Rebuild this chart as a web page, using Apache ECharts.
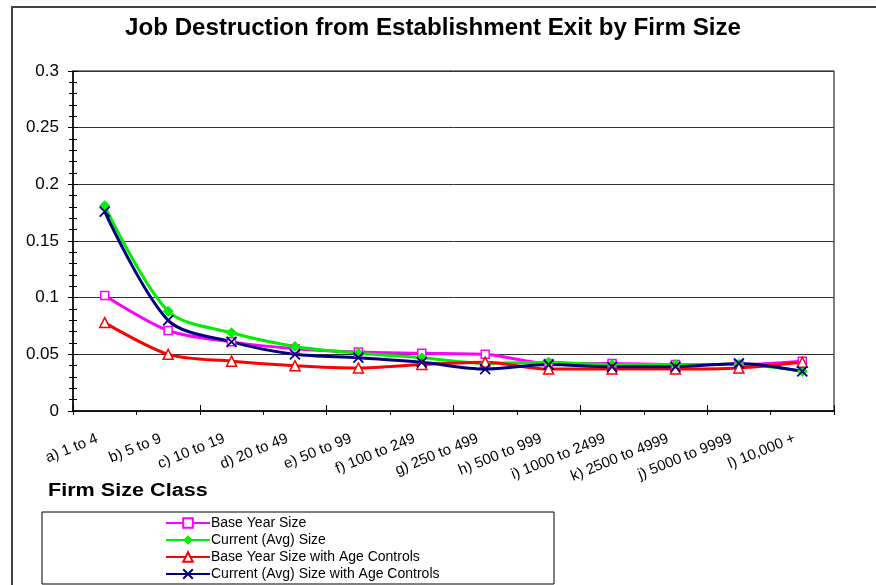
<!DOCTYPE html>
<html>
<head>
<meta charset="utf-8">
<script src="https://cdn.jsdelivr.net/npm/echarts@6/dist/echarts.min.js"></script>
<style>html,body{margin:0;padding:0;background:#fff;}#c{width:876px;height:585px;}</style>
</head>
<body>
<div id="c"></div>
<script>
var categories = ['a) 1 to 4','b) 5 to 9','c) 10 to 19','d) 20 to 49','e) 50 to 99','f) 100 to 249','g) 250 to 499','h) 500 to 999','i) 1000 to 2499','k) 2500 to 4999','j) 5000 to 9999','l) 10,000 +'];
var baseYearSize = [0.102, 0.071, 0.061, 0.055, 0.052, 0.051, 0.050, 0.042, 0.042, 0.041, 0.041, 0.044];
var currentAvgSize = [0.181, 0.088, 0.069, 0.057, 0.051, 0.047, 0.042, 0.043, 0.041, 0.041, 0.041, 0.035];
var baseYearAge = [0.078, 0.050, 0.044, 0.040, 0.038, 0.041, 0.043, 0.037, 0.037, 0.037, 0.038, 0.043];
var currentAvgAge = [0.176, 0.080, 0.061, 0.050, 0.047, 0.043, 0.037, 0.041, 0.039, 0.039, 0.042, 0.035];
var yTicks = [0, 0.05, 0.1, 0.15, 0.2, 0.25, 0.3];

var FONT = 'Liberation Sans, Arial, sans-serif';
var chart = echarts.init(document.getElementById('c'));
function mk(name, data, color, symbol, size, fill, bw) {
  return {
    name: name, type: 'line', data: data, smooth: 0.3,
    symbol: symbol, symbolSize: size,
    lineStyle: {color: color, width: 3},
    itemStyle: {color: fill, borderColor: color, borderWidth: bw},
    emphasis: {disabled: true}, z: 3
  };
}
chart.setOption({
  animation: false,
  grid: {left: 73, right: 42, top: 71, bottom: 174, show: true, borderColor: '#000', borderWidth: 1},
  legend: {
    orient: 'vertical', left: 160, top: 511, height: 80, width: 390, itemWidth: 44, itemHeight: 12, itemGap: 3,
    textStyle: {fontFamily: FONT, fontSize: 14, color: '#000', padding: [0,0,0,-4]},
    data: ['Base Year Size','Current (Avg) Size','Base Year Size with Age Controls','Current (Avg) Size with Age Controls']
  },
  xAxis: [{
    type: 'category', data: categories, boundaryGap: true,
    axisLine: {lineStyle: {color: '#000', width: 1.5}},
    axisTick: {show: true, length: 4, lineStyle: {color: '#000'}},
    axisLabel: {rotate: 22, fontFamily: FONT, fontSize: 15, color: '#000', margin: 24, interval: 0, padding: [0, 8, 0, 0]}
  }, {
    type: 'category', data: categories, boundaryGap: true, position: 'bottom',
    axisLine: {show: false},
    axisTick: {show: true, inside: true, length: 6, lineStyle: {color: '#000'}},
    axisLabel: {show: false}
  }],
  yAxis: [{
    type: 'value', min: 0, max: 0.3, interval: 0.05,
    axisLine: {show: true, lineStyle: {color: '#000', width: 1.5}},
    axisTick: {show: true, length: 5, lineStyle: {color: '#000'}},
    minorTick: {show: true, splitNumber: 5, length: 4, lineStyle: {color: '#000'}},
    splitLine: {show: true, lineStyle: {color: '#333', width: 1}},
    axisLabel: {fontFamily: FONT, fontSize: 17, color: '#000', margin: 14,
      formatter: function(v){ return String(+v.toFixed(2)); }}
  }, {
    type: 'value', min: 0, max: 0.3, interval: 0.05, position: 'left',
    axisLine: {show: false},
    axisTick: {show: true, inside: true, length: 5, lineStyle: {color: '#000'}},
    minorTick: {show: true, splitNumber: 5, length: 4, lineStyle: {color: '#000'}},
    splitLine: {show: false}, axisLabel: {show: false}
  }],
  series: [
    mk('Base Year Size', baseYearSize, '#FF00FF', 'rect', 8, '#fff', 1.5),
    mk('Current (Avg) Size', currentAvgSize, '#00EE00', 'diamond', 11, '#00EE00', 0),
    mk('Base Year Size with Age Controls', baseYearAge, '#FF0000', 'triangle', 10, '#fff', 1.5),
    mk('Current (Avg) Size with Age Controls', currentAvgAge, '#000080', 'path://M0,0L10,10M10,0L0,10', 10, '#000080', 1.8)
  ],
  graphic: [
    {type: 'rect', shape: {x: 12, y: 7, width: 900, height: 600}, style: {fill: null, stroke: '#444', lineWidth: 2}, silent: true},
    {type: 'text', x: 433, y: 29, style: {text: 'Job Destruction from Establishment Exit by Firm Size', font: 'bold 23px ' + FONT, fill: '#000', textAlign: 'center', textVerticalAlign: 'middle'}, scaleX: 1.05},
    {type: 'text', x: 48, y: 491, style: {text: 'Firm Size Class', font: 'bold 18px ' + FONT, fill: '#000', textVerticalAlign: 'middle'}, scaleX: 1.2},
    {type: 'rect', shape: {x: 42, y: 512, width: 512, height: 72}, style: {fill: null, stroke: '#000', lineWidth: 1}, silent: true, z: -1}
  ]
});
</script>
</body>
</html>
